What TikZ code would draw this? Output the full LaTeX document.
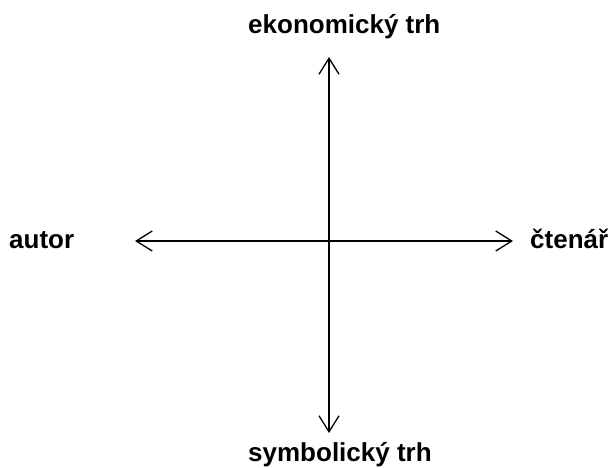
\documentclass[tikz,border=0pt]{standalone}
\usepackage{fontspec}
\setmainfont{Liberation Sans}
\usetikzlibrary{arrows.meta}
\begin{document}
\begin{tikzpicture}[x=1pt,y=-1pt,
  lbl/.style={font=\fontsize{26}{30}\selectfont\bfseries, inner sep=0pt, text=black},
  axis/.style={line width=1.3pt, draw=black, {Straight Barb[length=16pt,width=20pt,line width=1.3pt]}-{Straight Barb[length=16pt,width=20pt,line width=1.3pt]}}]
\useasboundingbox[fill=white] (0,0) rectangle (613,467);
\coordinate (T) at (329,57);
\coordinate (B) at (329,433);
\coordinate (L) at (135,241);
\coordinate (R) at (513,241);
\draw[axis] (T) -- (B);
\draw[axis] (L) -- (R);
\node[lbl, anchor=base west] (top) at (248,33) {ekonomický trh};
\node[lbl, anchor=base west] (bot) at (248,461) {symbolický trh};
\node[lbl, anchor=base west] (aut) at (9,248) {autor};
\node[lbl, anchor=base west] (cte) at (530,248) {čtenář};
\end{tikzpicture}
\end{document}
